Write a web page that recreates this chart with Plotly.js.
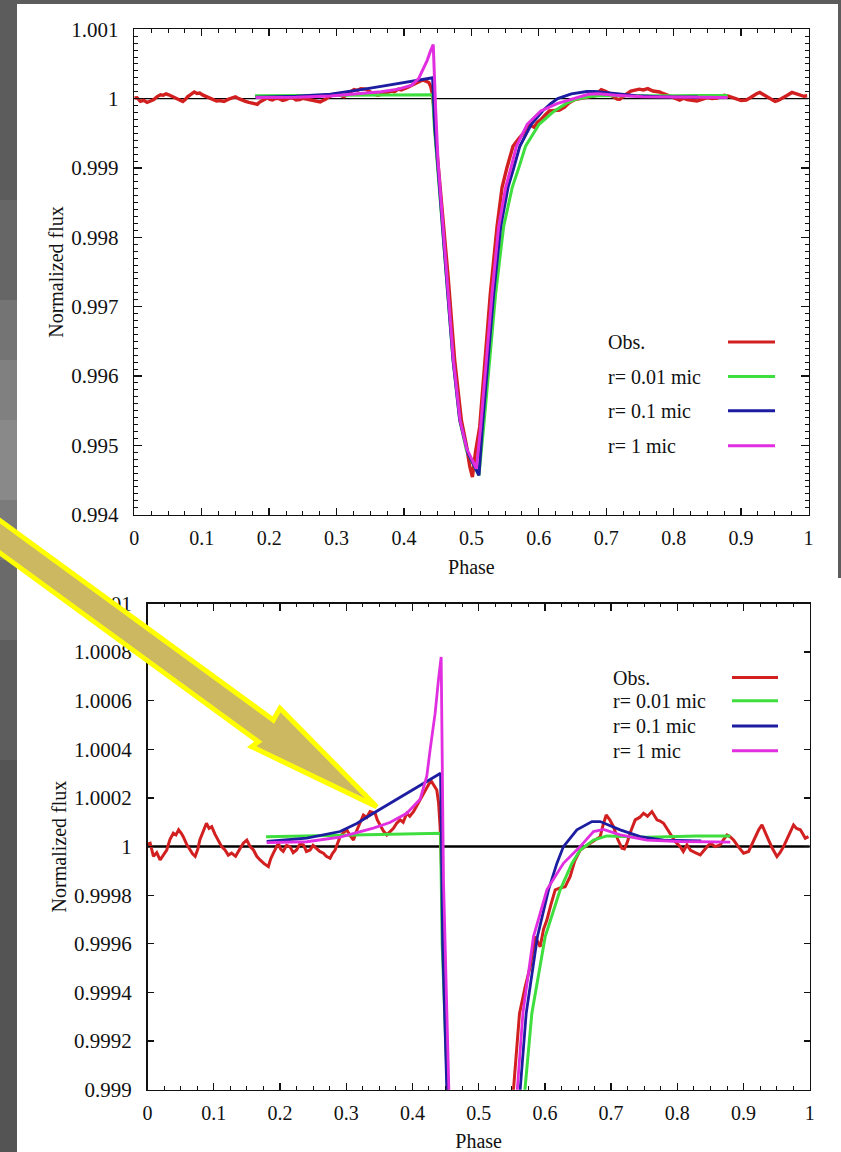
<!DOCTYPE html>
<html>
<head>
<meta charset="utf-8">
<script src="https://cdn.plot.ly/plotly-3.0.1.min.js"></script>
<style>
  html, body { margin: 0; padding: 0; background: #5c5c5c; }
  #chart { width: 841px; height: 1152px; }
</style>
</head>
<body>
<div id="chart"></div>
<script>
// ---------------- data ----------------
const seriesNames = ['Obs.', 'r= 0.01 mic', 'r= 0.1 mic', 'r= 1 mic'];
const seriesColors = ['#d21f1f', '#3fde3f', '#1d1da2', '#e02ee0'];

const phaseTicks = [0, 0.1, 0.2, 0.3, 0.4, 0.5, 0.6, 0.7, 0.8, 0.9, 1];
const phaseTickText = ['0', '0.1', '0.2', '0.3', '0.4', '0.5', '0.6', '0.7', '0.8', '0.9', '1'];
const fullFluxTicks = [0.994, 0.995, 0.996, 0.997, 0.998, 0.999, 1, 1.001];
const fullFluxTickText = ['0.994', '0.995', '0.996', '0.997', '0.998', '0.999', '1', '1.001'];
const zoomFluxTicks = [0.999, 0.9992, 0.9994, 0.9996, 0.9998, 1, 1.0002, 1.0004, 1.0006, 1.0008, 1.001];
const zoomFluxTickText = ['0.999', '0.9992', '0.9994', '0.9996', '0.9998', '1', '1.0002', '1.0004', '1.0006', '1.0008', '1.001'];

const refPhase = [0, 1];
const refFlux = [1, 1];

// Observed light curve
const obsPhase = [
  0.000, 0.004, 0.009, 0.014, 0.019, 0.024, 0.029, 0.034, 0.039, 0.043, 0.047, 0.051, 0.054, 0.059,
  0.064, 0.068, 0.072, 0.076, 0.079, 0.084, 0.089, 0.093, 0.097, 0.102, 0.107, 0.112, 0.117, 0.122,
  0.127, 0.133, 0.140, 0.145, 0.150, 0.155, 0.160, 0.165, 0.170, 0.176, 0.1825, 0.186, 0.190, 0.1976,
  0.201, 0.205, 0.210, 0.215, 0.220, 0.225, 0.230, 0.2354, 0.240, 0.2455, 0.250, 0.2555, 0.260, 0.2656,
  0.270, 0.2757, 0.279, 0.2832, 0.287, 0.2908, 0.295, 0.3009, 0.306, 0.311, 0.315, 0.3185, 0.322, 0.326,
  0.331, 0.336, 0.3437, 0.347, 0.3512, 0.356, 0.3613, 0.366, 0.3713, 0.376, 0.3814, 0.386, 0.3915, 0.396,
  0.4016, 0.406, 0.4116, 0.417, 0.4217, 0.4255, 0.429, 0.433, 0.4368, 0.4395, 0.4418,
  0.4445, 0.4465, 0.4545, 0.4655, 0.4752, 0.4852, 0.4926, 0.4975, 0.5015, 0.5060, 0.5123, 0.5197,
  0.5281, 0.5380, 0.5455, 0.5526, 0.5617, 0.5700, 0.5778, 0.5853, 0.5929, 0.5980, 0.6030, 0.6090,
  0.6156, 0.6231, 0.6307, 0.6382, 0.6450, 0.6533, 0.6610, 0.6684, 0.6760, 0.6835, 0.6880, 0.6926,
  0.6980, 0.7036, 0.7100, 0.7163, 0.7200, 0.7239, 0.7300, 0.7364, 0.7430, 0.7490, 0.7550, 0.7616,
  0.7692, 0.7740, 0.7792, 0.7840, 0.7893, 0.7970, 0.8044, 0.8090, 0.8145, 0.8200, 0.8270, 0.8346,
  0.8420, 0.8497, 0.8570, 0.8648, 0.8700, 0.8749, 0.8800, 0.8849, 0.8920, 0.9000, 0.9076, 0.9130,
  0.9177, 0.9230, 0.9278, 0.9330, 0.9378, 0.9440, 0.9504, 0.9550, 0.9604, 0.9680, 0.9755, 0.9800,
  0.9857, 0.9900, 0.9932, 0.9980
];
const obsFlux = [
  1.000010, 1.000014, 0.999960, 0.999975, 0.999945, 0.999965, 0.999986, 1.000030, 1.000055, 1.000048, 1.000069, 1.000055, 1.000041, 1.000010,
  0.999986, 0.999970, 0.999960, 0.999990, 1.000027, 1.000060, 1.000096, 1.000075, 1.000082, 1.000050, 1.000027, 1.000000, 0.999986, 0.999965,
  0.999973, 0.999960, 0.999993, 1.000015, 1.000027, 1.000000, 0.999986, 0.999960, 0.999945, 0.999930, 0.999918, 0.999950, 0.999973, 1.000014,
  0.999990, 0.999980, 1.000005, 1.000000, 0.999975, 0.999986, 1.000010, 1.000007, 0.999980, 0.999986, 1.000005, 0.999993, 0.999980, 0.999973,
  0.999960, 0.999952, 0.999970, 0.999986, 1.000015, 1.000041, 1.000055, 1.000069, 1.000045, 1.000027, 1.000060, 1.000082, 1.000110, 1.000130,
  1.000120, 1.000144, 1.000137, 1.000110, 1.000089, 1.000065, 1.000048, 1.000060, 1.000075, 1.000095, 1.000110, 1.000100, 1.000137, 1.000125,
  1.000144, 1.000165, 1.000192, 1.000220, 1.000247, 1.000260, 1.000267, 1.000250, 1.000233, 1.000180, 1.000082,
  0.999860, 0.999500, 0.998630, 0.997430, 0.996230, 0.995360, 0.995000, 0.994700, 0.994544, 0.994900, 0.995266, 0.996228,
  0.997190, 0.998152, 0.998720, 0.999000, 0.999314, 0.999420, 0.999506, 0.999630, 0.999588, 0.999660, 0.999698, 0.999760,
  0.999822, 0.999830, 0.999835, 0.999877, 0.999940, 0.999986, 1.000000, 1.000014, 1.000030, 1.000041, 1.000090, 1.000130,
  1.000110, 1.000082, 1.000030, 0.999993, 0.999990, 1.000014, 1.000065, 1.000110, 1.000120, 1.000137, 1.000125, 1.000144,
  1.000110, 1.000105, 1.000096, 1.000075, 1.000055, 1.000020, 1.000000, 0.999980, 1.000007, 0.999985, 0.999975, 0.999966,
  0.999990, 1.000014, 1.000000, 1.000007, 1.000030, 1.000048, 1.000040, 1.000027, 1.000000, 0.999973, 0.999980, 1.000010,
  1.000041, 1.000070, 1.000089, 1.000060, 1.000027, 0.999990, 0.999959, 0.999975, 1.000000, 1.000045, 1.000089, 1.000075,
  1.000069, 1.000050, 1.000034, 1.000041
];

// Model r = 0.01 micron
const r001Phase = [0.179, 0.25, 0.32, 0.39, 0.4425, 0.4450, 0.4531, 0.463, 0.4728, 0.4827, 0.4926, 0.5024, 0.5112,
  0.5182, 0.5271, 0.536, 0.5478, 0.5606, 0.5702, 0.5803, 0.6005, 0.6231, 0.6408, 0.6533, 0.6734, 0.6936, 0.72,
  0.754, 0.80, 0.8296, 0.88];
const r001Flux = [1.000041, 1.000044, 1.000047, 1.000050, 1.000055, 0.999595, 0.998633, 0.997430, 0.996228, 0.995362,
  0.994929, 0.994737, 0.994568, 0.995266, 0.996228, 0.997190, 0.998152, 0.998720, 0.999000, 0.999314, 0.999630,
  0.999822, 0.999931, 0.999986, 1.000027, 1.000044, 1.000042, 1.000038, 1.000042, 1.000044, 1.000044];

// Model r = 0.1 micron
const r01Phase = [0.18, 0.2405, 0.2908, 0.316, 0.341, 0.366, 0.3915, 0.4166, 0.4425, 0.4457, 0.4531, 0.463, 0.4728,
  0.4827, 0.4950, 0.5112, 0.5162, 0.5246, 0.533, 0.5434, 0.5543, 0.5627, 0.5718, 0.5888, 0.6055, 0.6181, 0.628,
  0.6483, 0.671, 0.6835, 0.7137, 0.744, 0.779, 0.836];
const r01Flux = [1.000021, 1.000035, 1.000062, 1.000095, 1.000137, 1.000177, 1.000220, 1.000260, 1.000302, 0.999595,
  0.998633, 0.997430, 0.996228, 0.995362, 0.994882, 0.994568, 0.995266, 0.996228, 0.997190, 0.998152, 0.998720,
  0.999000, 0.999314, 0.999630, 0.999822, 0.999931, 1.000000, 1.000069, 1.000103, 1.000103, 1.000069, 1.000041,
  1.000027, 1.000023];

// Model r = 1 micron
const r1Phase = [0.18, 0.2405, 0.2908, 0.341, 0.366, 0.3915, 0.4116, 0.4217, 0.4267, 0.4343, 0.4393, 0.4434, 0.4469,
  0.4505, 0.4541, 0.4635, 0.4733, 0.4832, 0.4931, 0.5074, 0.5137, 0.5222, 0.5306, 0.5404, 0.5508, 0.5586, 0.5668,
  0.5828, 0.603, 0.628, 0.6533, 0.6734, 0.6885, 0.7137, 0.754, 0.8044, 0.88];
const r1Flux = [1.000016, 1.000020, 1.000039, 1.000076, 1.000099, 1.000137, 1.000195, 1.000290, 1.000398, 1.000549,
  1.000686, 1.000780, 0.999863, 0.999100, 0.998633, 0.997430, 0.996228, 0.995362, 0.994950, 0.994665, 0.995266,
  0.996228, 0.997190, 0.998152, 0.998720, 0.999000, 0.999314, 0.999630, 0.999822, 0.999931, 1.000000, 1.000062,
  1.000071, 1.000048, 1.000027, 1.000021, 1.000018];

// ---------------- layout helpers ----------------
const W = 841, H = 1152;
const X = px => px / W;
const Y = py => 1 - py / H;
const SERIF = 'Liberation Serif, Times New Roman, serif';
const INK = '#111111';

const seriesPhase = [obsPhase, r001Phase, r01Phase, r1Phase];
const seriesFlux = [obsFlux, r001Flux, r01Flux, r1Flux];

const traces = [];
function addPanel(xa, ya, refWidth, lineWidths) {
  traces.push({ x: refPhase, y: refFlux, xaxis: xa, yaxis: ya, mode: 'lines',
    line: { color: '#000', width: refWidth }, showlegend: false, hoverinfo: 'skip' });
  for (let i = 0; i < 4; i++) {
    traces.push({ x: seriesPhase[i], y: seriesFlux[i], xaxis: xa, yaxis: ya, mode: 'lines',
      name: seriesNames[i], line: { color: seriesColors[i], width: lineWidths[i] },
      showlegend: false, cliponaxis: true });
  }
}
addPanel('x', 'y', 1.3, [3.4, 3, 3, 3]);
addPanel('x2', 'y2', 2.5, [3, 3, 2.8, 2.8]);

function xAxis(domain, anchor) {
  return {
    domain: domain, anchor: anchor, range: [0, 1], autorange: false,
    tickmode: 'array', tickvals: phaseTicks, ticktext: phaseTickText,
    ticks: 'inside', ticklen: 7, tickwidth: 1.3, tickcolor: INK,
    minor: { dtick: 0.025, tick0: 0, ticks: 'inside', ticklen: 3.5, tickwidth: 1, tickcolor: INK, showgrid: false },
    showline: true, linecolor: INK, linewidth: 1.5, mirror: 'allticks',
    showgrid: false, zeroline: false, automargin: false,
    tickfont: { family: SERIF, size: 20, color: INK }, ticklabelstandoff: 5,
    title: { text: 'Phase', font: { family: SERIF, size: 20, color: INK }, standoff: 12 }
  };
}
function yAxis(domain, anchor, range, vals, text, minor, ticklen) {
  const ax = {
    domain: domain, anchor: anchor, range: range, autorange: false,
    tickmode: 'array', tickvals: vals, ticktext: text,
    ticks: 'inside', ticklen: ticklen, tickwidth: 1.3, tickcolor: INK,
    showline: true, linecolor: INK, linewidth: 1.5, mirror: 'allticks',
    showgrid: false, zeroline: false, automargin: false,
    tickfont: { family: SERIF, size: 21, color: INK }, ticklabelstandoff: 10,
    title: { text: 'Normalized flux', font: { family: SERIF, size: 20, color: INK }, standoff: 2 }
  };
  if (minor) ax.minor = minor;
  return ax;
}

// background panels
const shapes = [];
const stripBands = [
  [0, 200, '#5c5c5c'], [200, 300, '#666666'], [300, 360, '#747474'], [360, 420, '#808080'],
  [420, 500, '#898989'], [500, 560, '#7b7b7b'], [560, 640, '#6a6a6a'], [640, 760, '#5d5d5d'],
  [760, 1152, '#545454']
];
stripBands.forEach(b => shapes.push({ type: 'rect', xref: 'paper', yref: 'paper', layer: 'below',
  x0: X(0), x1: X(17), y0: Y(b[1]), y1: Y(b[0]), line: { width: 0 }, fillcolor: b[2] }));
shapes.push({ type: 'rect', xref: 'paper', yref: 'paper', layer: 'below',
  x0: X(17), x1: X(838), y0: Y(578), y1: Y(4), line: { width: 0 }, fillcolor: '#ffffff' });
shapes.push({ type: 'rect', xref: 'paper', yref: 'paper', layer: 'below',
  x0: X(17), x1: X(841), y0: Y(1152), y1: Y(578), line: { width: 0 }, fillcolor: '#ffffff' });

// custom legends: text on the left, line sample on the right
const annotations = [];
const legendBlocks = [
  { textX: 606, lineX0: 728, lineX1: 775, rows: [342, 376.6, 410.7, 445.8], width: 3 },
  { textX: 611, lineX0: 732, lineX1: 778, rows: [677.6, 700.7, 725.9, 750.8], width: 3 }
];
legendBlocks.forEach(blk => {
  blk.rows.forEach((py, i) => {
    annotations.push({ xref: 'paper', yref: 'paper', x: X(blk.textX), y: Y(py), xanchor: 'left', yanchor: 'middle',
      text: seriesNames[i], showarrow: false, font: { family: SERIF, size: 20, color: INK } });
    shapes.push({ type: 'line', xref: 'paper', yref: 'paper', x0: X(blk.lineX0), x1: X(blk.lineX1),
      y0: Y(py), y1: Y(py), line: { color: seriesColors[i], width: blk.width } });
  });
});

// big pointing arrow (decoration)
const arrowPts = [[-30, 498.6], [273.3, 720], [280, 708.3], [376.7, 806.7], [251.7, 746.7], [258.3, 741.7], [-30, 531.1]];
const arrowPath = 'M ' + arrowPts.map(p => X(p[0]).toFixed(5) + ',' + Y(p[1]).toFixed(5)).join(' L ') + ' Z';
shapes.push({ type: 'path', xref: 'paper', yref: 'paper', layer: 'above', path: arrowPath,
  fillcolor: '#cdb862', line: { color: '#ffff00', width: 5 } });

const layout = {
  width: W, height: H,
  margin: { l: 0, r: 0, t: 0, b: 0, pad: 0 },
  paper_bgcolor: '#5c5c5c',
  plot_bgcolor: 'rgba(0,0,0,0)',
  showlegend: false,
  xaxis: xAxis([X(134.3), X(808.5)], 'y'),
  yaxis: yAxis([Y(514.7), Y(29.3)], 'x', [0.994, 1.001], fullFluxTicks, fullFluxTickText,
    { dtick: 0.0001, tick0: 0.994, ticks: 'inside', ticklen: 4, tickwidth: 1, tickcolor: INK, showgrid: false }, 8),
  xaxis2: xAxis([X(147.5), X(809.8)], 'y2'),
  yaxis2: yAxis([Y(1089.7), Y(603.5)], 'x2', [0.999, 1.001], zoomFluxTicks, zoomFluxTickText, null, 6),
  shapes: shapes,
  annotations: annotations
};

Plotly.newPlot('chart', traces, layout, { staticPlot: true, displayModeBar: false });
</script>
</body>
</html>
